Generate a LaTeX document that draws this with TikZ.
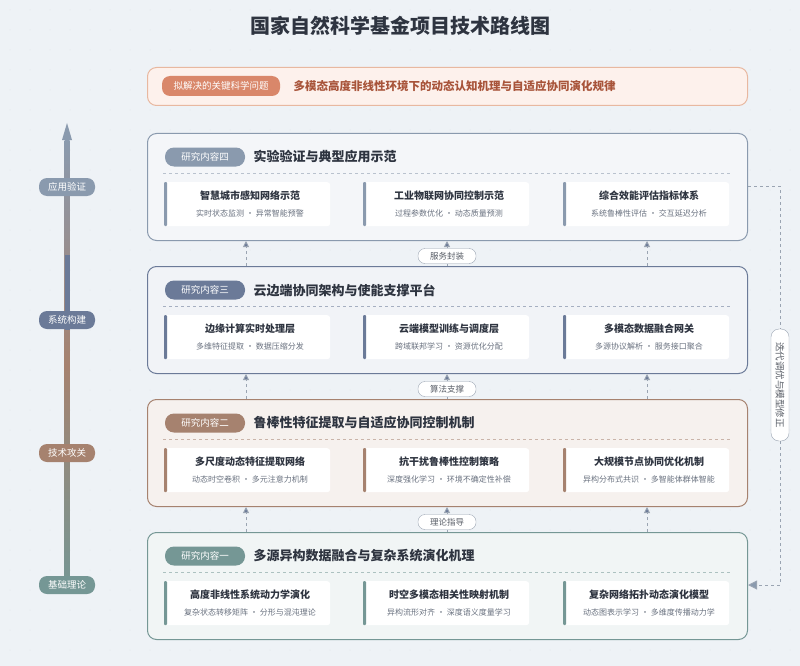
\documentclass[tikz,border=0pt]{standalone}
\usepackage{fontspec}
\setmainfont{Noto Sans CJK SC}
\usetikzlibrary{arrows.meta}
\definecolor{bg}{HTML}{EEF2F6}
\definecolor{cA}{HTML}{8A9AAE}
\definecolor{cB}{HTML}{6B7A98}
\definecolor{cC}{HTML}{A6826F}
\definecolor{cD}{HTML}{759795}
\definecolor{fA}{HTML}{F4F6F9}
\definecolor{fB}{HTML}{F1F3F7}
\definecolor{fC}{HTML}{F6F1EE}
\definecolor{fD}{HTML}{F1F5F5}
\definecolor{pb}{HTML}{E8B8A0}
\definecolor{pf}{HTML}{FDF1EC}
\definecolor{pp}{HTML}{D9876A}
\definecolor{pt}{HTML}{A8543A}
\definecolor{tx}{HTML}{2E3440}
\definecolor{sub}{HTML}{6A7280}
\definecolor{dsh}{HTML}{9AA4B2}
\tikzset{
 panel/.style={draw=#1,line width=1pt,rounded corners=9pt,minimum width=600pt,minimum height=107pt,anchor=north west},
 hpill/.style={fill=#1,rounded corners=9pt,text=white,font=\fontsize{9.5}{10}\selectfont,minimum width=80pt,minimum height=19pt,inner sep=0pt},
 ptitle/.style={anchor=west,text=tx,font=\fontsize{13}{14}\selectfont\bfseries},
 sbox/.style={fill=white,rounded corners=3pt,minimum width=166pt,minimum height=44pt,anchor=north west,inner sep=0pt},
 st/.style={text=tx,font=\fontsize{10}{11}\selectfont\bfseries},
 ss/.style={text=sub,font=\fontsize{8}{9}\selectfont},
 apill/.style={fill=#1,rounded corners=8pt,text=white,font=\fontsize{9.5}{10}\selectfont,minimum width=56pt,minimum height=18pt,inner sep=0pt},
 clab/.style={draw=dsh,fill=white,rounded corners=7pt,text=tx!80,font=\fontsize{8.5}{9}\selectfont,minimum width=58pt,minimum height=15pt,inner sep=0pt},
 darr/.style={draw=dsh,dashed,line width=0.9pt,-{Triangle[length=6pt,width=6pt,fill=cB]}},
}
\begin{document}
\begin{tikzpicture}[x=1pt,y=-1pt]
\fill[bg] (0,0) rectangle (800,666);
\useasboundingbox (0,0) rectangle (800,666);
\foreach \i in {0,...,39}{\foreach \j in {0,...,33}{\fill[dsh!30] (\i*20+10,\j*20+10) circle (0.5pt);}}
\node[font=\fontsize{20}{21}\selectfont\bfseries,text=tx] (title) at (400,26) {国家自然科学基金项目技术路线图};
% problem
\node[draw=pb,fill=pf,line width=1pt,rounded corners=9pt,minimum width=600pt,minimum height=38pt,anchor=north west] (prob) at (147,67) {};
\node[fill=pp,rounded corners=8pt,text=white,font=\fontsize{9.5}{10}\selectfont,minimum width=118pt,minimum height=20pt,inner sep=0pt] (pp) at (221,86) {拟解决的关键科学问题};
\node[anchor=west,text=pt,font=\fontsize{11.5}{12}\selectfont\bfseries] (pq) at (290,86) {多模态高度非线性环境下的动态认知机理与自适应协同演化规律};
% panels
\foreach \n/\y/\c/\f/\lab/\ti in {
 4/133/cA/fA/研究内容四/实验验证与典型应用示范,
 3/266/cB/fB/研究内容三/云边端协同架构与使能支撑平台,
 2/399/cC/fC/研究内容二/鲁棒性特征提取与自适应协同控制机制,
 1/532/cD/fD/研究内容一/多源异构数据融合与复杂系统演化机理}{
 \node[panel=\c,fill=\f] (P\n) at (147,\y) {};
 \node[hpill=\c] (H\n) at (205,\y+24) {\lab};
 \node[ptitle] (T\n) at (250,\y+24) {\ti};
 \draw[\c!60,dashed,line width=0.6pt] (163,\y+40) -- (731,\y+40);
}
\newcommand{\mysb}[6]{%
 \node[sbox] (#1) at (#2,#3) {};
 \fill[#4,rounded corners=1pt] (#2,#3) rectangle (#2+3,#3+44);
 \node[st] at (#2+86,#3+14) {#5};
 \node[ss] at (#2+86,#3+31) {#6};}
\mysb{a1}{164}{182}{cA}{智慧城市感知网络示范}{实时状态监测 · 异常智能预警}
\mysb{a2}{363}{182}{cA}{工业物联网协同控制示范}{过程参数优化 · 动态质量预测}
\mysb{a3}{563}{182}{cA}{综合效能评估指标体系}{系统鲁棒性评估 · 交互延迟分析}
\mysb{b1}{164}{315}{cB}{边缘计算实时处理层}{多维特征提取 · 数据压缩分发}
\mysb{b2}{363}{315}{cB}{云端模型训练与调度层}{跨域联邦学习 · 资源优化分配}
\mysb{b3}{563}{315}{cB}{多模态数据融合网关}{多源协议解析 · 服务接口聚合}
\mysb{c1}{164}{448}{cC}{多尺度动态特征提取网络}{动态时空卷积 · 多元注意力机制}
\mysb{c2}{363}{448}{cC}{抗干扰鲁棒性控制策略}{深度强化学习 · 环境不确定性补偿}
\mysb{c3}{563}{448}{cC}{大规模节点协同优化机制}{异构分布式共识 · 多智能体群体智能}
\mysb{d1}{164}{581}{cD}{高度非线性系统动力学演化}{复杂状态转移矩阵 · 分形与混沌理论}
\mysb{d2}{363}{581}{cD}{时空多模态相关性映射机制}{异构流形对齐 · 深度语义度量学习}
\mysb{d3}{563}{581}{cD}{复杂网络拓扑动态演化模型}{动态图表示学习 · 多维度传播动力学}
% connectors between panels
\foreach \lo/\hi/\yy/\lab in {P3/P4/256/服务封装,P2/P3/389/算法支撑,P1/P2/522/理论指导}{
 \node[clab] (L\lo) at (447,\yy) {\lab};
 \draw[darr] ([xshift=99pt]\lo.north west) -- ([xshift=99pt]\hi.south west);
 \draw[darr] ([xshift=-101pt]\lo.north east) -- ([xshift=-101pt]\hi.south east);
 \draw[darr] (L\lo) -- (L\lo|-\hi.south);
 \draw[dsh,dashed,line width=0.9pt] (\lo.north-|L\lo) -- (L\lo);
}
% left axis
\shade[bottom color=cD,top color=cA,middle color=cC] (64.5,590) rectangle (69.5,140);
\fill[cB] (64.5,255) rectangle (69.5,330);
\fill[cA] (67,123) -- (72,140) -- (62,140) -- cycle;
\node[apill=cA] (x4) at (67,187) {应用验证};
\node[apill=cB] (x3) at (67,320) {系统构建};
\node[apill=cC] (x2) at (67,453) {技术攻关};
\node[apill=cD] (x1) at (67,585) {基础理论};
% feedback loop
\coordinate (r1) at (780,186);
\coordinate (r2) at (780,585);
\node[draw=dsh,fill=white,rounded corners=8pt,rotate=-90,text=tx!80,font=\fontsize{9.5}{10}\selectfont,minimum width=112pt,minimum height=18pt,inner sep=0pt] (fb) at (780,385) {迭代调优与模型修正};
\draw[dsh,dashed,line width=1pt] (P4.east|-r1) -- (r1) -- (fb.west);
\draw[dsh,dashed,line width=1pt,-{Triangle[length=9pt,width=9pt,fill=cA]}] (fb.east) -- (r2) -- (P1.east|-r2);
\end{tikzpicture}
\end{document}
